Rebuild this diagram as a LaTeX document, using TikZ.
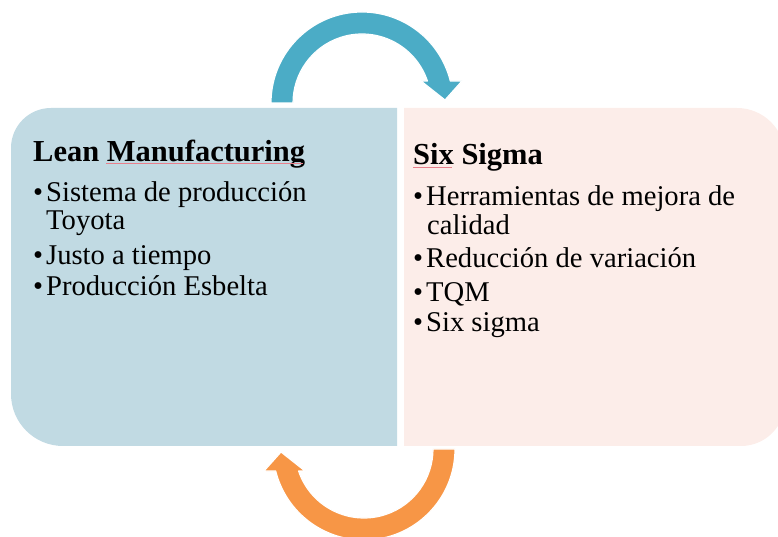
\documentclass[tikz,border=0pt]{standalone}
\usepackage{fontspec}
\setmainfont{Liberation Serif}
\definecolor{leanfill}{HTML}{C1DAE3}
\definecolor{sigmafill}{HTML}{FCEDE9}
\definecolor{cycleblue}{HTML}{4BACC6}
\definecolor{cycleorange}{HTML}{F79646}
\definecolor{spellred}{HTML}{E8808C}
\tikzset{
  headtext/.style={anchor=base west, inner sep=0pt, font=\fontsize{30.5}{32}\selectfont\bfseries},
  itemtext/.style={anchor=base west, inner sep=0pt, font=\fontsize{28.6}{30}\selectfont},
  arrowshape/.style={draw=white, line width=1.2pt, line join=round},
  squiggle/.style={spellred, line width=0.8pt}
}
\newcommand{\bul}{\makebox[13pt][l]{•}}
\begin{document}
\begin{tikzpicture}[x=1pt,y=1pt]
\useasboundingbox (0,0) rectangle (778,537);

% left panel
\fill[leanfill] (397,429) -- (51,429) arc[start angle=90,end angle=180,radius=40]
  -- (11,143) arc[start angle=180,end angle=270,radius=52] -- (397,91) -- cycle;
% right panel
\fill[sigmafill] (404,429) -- (737,429) arc[start angle=90,end angle=0,radius=48]
  -- (785,135) arc[start angle=0,end angle=-90,radius=44] -- (404,91) -- cycle;

% upper circular arrow
\path[arrowshape, fill=cycleblue] (271,434) arc[start angle=180,end angle=14,radius=91]
  -- (462,456) -- (445,437) -- (421,456) -- (427.4,456)
  arc[start angle=18.6,end angle=180,radius=69] -- cycle;
% lower circular arrow (same outline turned half a turn)
\path[arrowshape, fill=cycleorange, rotate around={180:(363,261)}] (271,434)
  arc[start angle=180,end angle=14,radius=91]
  -- (462,456) -- (445,437) -- (421,456) -- (427.4,456)
  arc[start angle=18.6,end angle=180,radius=69] -- cycle;

% left panel text
\node[headtext] (leanhead) at (33,375) {Lean Manufacturing};
\node[itemtext] (lean1) at (33,335) {\bul Sistema de producción};
\node[itemtext] (lean1b) at (46,307) {Toyota};
\node[itemtext] (lean2) at (33,272) {\bul Justo a tiempo};
\node[itemtext] (lean3) at (33,241) {\bul Producción Esbelta};

% right panel text
\node[headtext] (sigmahead) at (413,372) {Six Sigma};
\node[itemtext] (sig1) at (413,331) {\bul Herramientas de mejora de};
\node[itemtext] (sig1b) at (427,302) {calidad};
\node[itemtext] (sig2) at (413,269) {\bul Reducción de variación};
\node[itemtext] (sig3) at (413,235) {\bul TQM};
\node[itemtext] (sig4) at (413,205) {\bul Six sigma};

% spell-check underlines
\draw[squiggle] (106,374) -- (303,374);
\draw[squiggle] (413,370) -- (452,370);
\end{tikzpicture}
\end{document}
